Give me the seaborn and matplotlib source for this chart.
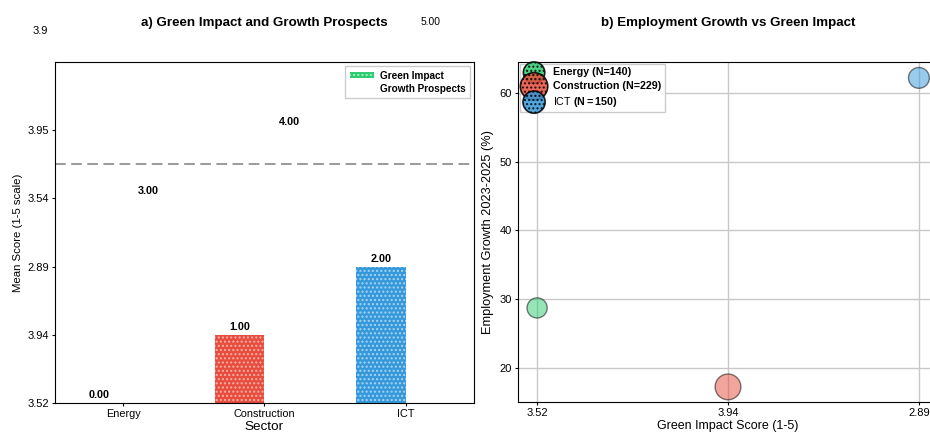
import numpy as np
import pandas as pd
import matplotlib
matplotlib.use("Agg")
import matplotlib.pyplot as plt
import seaborn as sns
from matplotlib.patches import Patch

# ---------------- data ----------------
sectors = ["Energy", "Construction", "ICT"]
green_bar_values = [0.0, 1.0, 2.0]
growth_bar_values = [3.0, 4.0, 5.0]
mean_line_value = 3.5
ytick_values = [0, 1, 2, 3, 4]
ytick_labels = ["3.52", "3.94", "2.89", "3.54", "3.95"]
stray_ytick_label = "3.9"
stray_bar_label = "5.00"
green_impact_labels = ["3.52", "3.94", "2.89"]
employment_growth = [28.7, 17.2, 62.2]
sample_sizes = [140, 229, 150]
sector_colors = ["#2ecc71", "#e74c3c", "#3498db"]
hatch_colors = ["#a8f0c6", "#f7b0a8", "#a9d4f3"]

plt.rcParams["font.family"] = ["Liberation Sans", "DejaVu Sans"]
plt.rcParams["mathtext.fontset"] = "custom"
plt.rcParams["mathtext.rm"] = "Liberation Sans"
plt.rcParams["mathtext.bf"] = "Liberation Sans:bold"
plt.rcParams["xtick.major.size"] = 2.5
plt.rcParams["ytick.major.size"] = 2.5
plt.rcParams["xtick.major.pad"] = 2
plt.rcParams["ytick.major.pad"] = 2

fig = plt.figure(figsize=(9.3, 4.33), dpi=100)
ax1 = fig.add_axes([0.0591, 0.0693, 0.4505, 0.7875])
ax2 = fig.add_axes([0.557, 0.0716, 0.4516, 0.785])

# ---------------- panel a ----------------
df = pd.DataFrame({
    "Sector": sectors * 2,
    "Score": green_bar_values + growth_bar_values,
    "Metric": ["Green Impact"] * 3 + ["Growth Prospects"] * 3,
})
sns.barplot(data=df, x="Sector", y="Score", hue="Metric", width=0.7,
            dodge=True, errorbar=None, saturation=1, legend=False, ax=ax1)

green_cont, growth_cont = ax1.containers[0], ax1.containers[1]
for p, fc, hc in zip(green_cont.patches, sector_colors, hatch_colors):
    p.set_facecolor(fc)
    p.set_alpha(None)
    p.set_edgecolor(hc)
    p.set_linewidth(0)
    p.set_hatch("....")
for p in growth_cont.patches:
    p.set_facecolor("none")
    p.set_edgecolor("none")

ax1.bar_label(green_cont, fmt="%.2f", padding=2, fontsize=7.8, fontweight="bold")
ax1.bar_label(growth_cont, labels=["3.00", "4.00", ""], padding=2,
              fontsize=7.8, fontweight="bold")
ax1.text(growth_cont.patches[2].get_x() + growth_cont.patches[2].get_width() / 2,
         5.59, stray_bar_label, ha="center", va="center", fontsize=7.4,
         clip_on=False)
ax1.text(-0.59, 5.45, stray_ytick_label, ha="center", va="center", fontsize=8,
         clip_on=False)

ax1.axhline(mean_line_value, color="gray", linestyle=(0, (5.5, 2.8)),
            linewidth=1.4, alpha=0.8)
ax1.set_xlim(-0.485, 2.485)
ax1.set_ylim(0, 5)
ax1.set_yticks(ytick_values)
ax1.set_yticklabels(ytick_labels)
ax1.tick_params(axis="y", labelsize=8)
ax1.tick_params(axis="x", labelsize=7.8)
ax1.set_xlabel("Sector", fontsize=9.7, labelpad=1)
ax1.set_ylabel("Mean Score (1-5 scale)", fontsize=8.2, labelpad=3)
ax1.set_title("a) Green Impact and Growth Prospects", fontsize=9.6,
              fontweight="bold", pad=26)
leg1 = ax1.legend(
    handles=[Patch(facecolor=sector_colors[0], edgecolor=hatch_colors[0],
                   hatch="....", linewidth=0, label="Green Impact"),
             Patch(facecolor="none", edgecolor="none", label="Growth Prospects")],
    loc="upper right", prop={"weight": "bold", "size": 7.2},
    borderpad=0.45, labelspacing=0.3, handlelength=2.4, handleheight=0.6,
    handletextpad=0.6, fancybox=False, framealpha=1, borderaxespad=0.4)

# ---------------- panel b ----------------
sns.scatterplot(x=green_impact_labels, y=employment_growth, hue=sectors,
                palette=sector_colors, s=[n * 1.5 for n in sample_sizes],
                alpha=0.5, edgecolor="black", linewidth=1, legend=False,
                ax=ax2, zorder=3)
ax2.set_xlim(-0.1, 2.1)
ax2.set_ylim(15.0, 64.5)
ax2.grid(True, color="#c8c8c8", linewidth=1)
ax2.set_axisbelow(True)
ax2.tick_params(labelsize=8)
ax2.set_xlabel("Green Impact Score (1-5)", fontsize=9, labelpad=1)
ax2.set_ylabel("Employment Growth 2023-2025 (%)", fontsize=9.2, labelpad=4)
ax2.set_title("b) Employment Growth vs Green Impact", fontsize=9.6,
              fontweight="bold", pad=26)

handles = []
for sec, n, c in zip(sectors, sample_sizes, sector_colors):
    h = ax2.scatter([], [], s=n * 1.7, color=c, alpha=0.85, edgecolor="black",
                    linewidth=1.2, hatch="....")
    handles.append(h)
labels = [f"Energy (N={sample_sizes[0]})",
          f"Construction (N={sample_sizes[1]})",
          f"ICT $\\mathbf{{(N{{=}}{sample_sizes[2]})}}$"]
leg2 = ax2.legend(handles, labels, loc="upper left", fontsize=7.7,
                  borderpad=0.3, labelspacing=0.35, handletextpad=0.8,
                  fancybox=False, framealpha=1, scatterpoints=1,
                  borderaxespad=0.2)
for t in leg2.get_texts()[:2]:
    t.set_fontweight("bold")

fig.savefig("out.png", dpi=100)
